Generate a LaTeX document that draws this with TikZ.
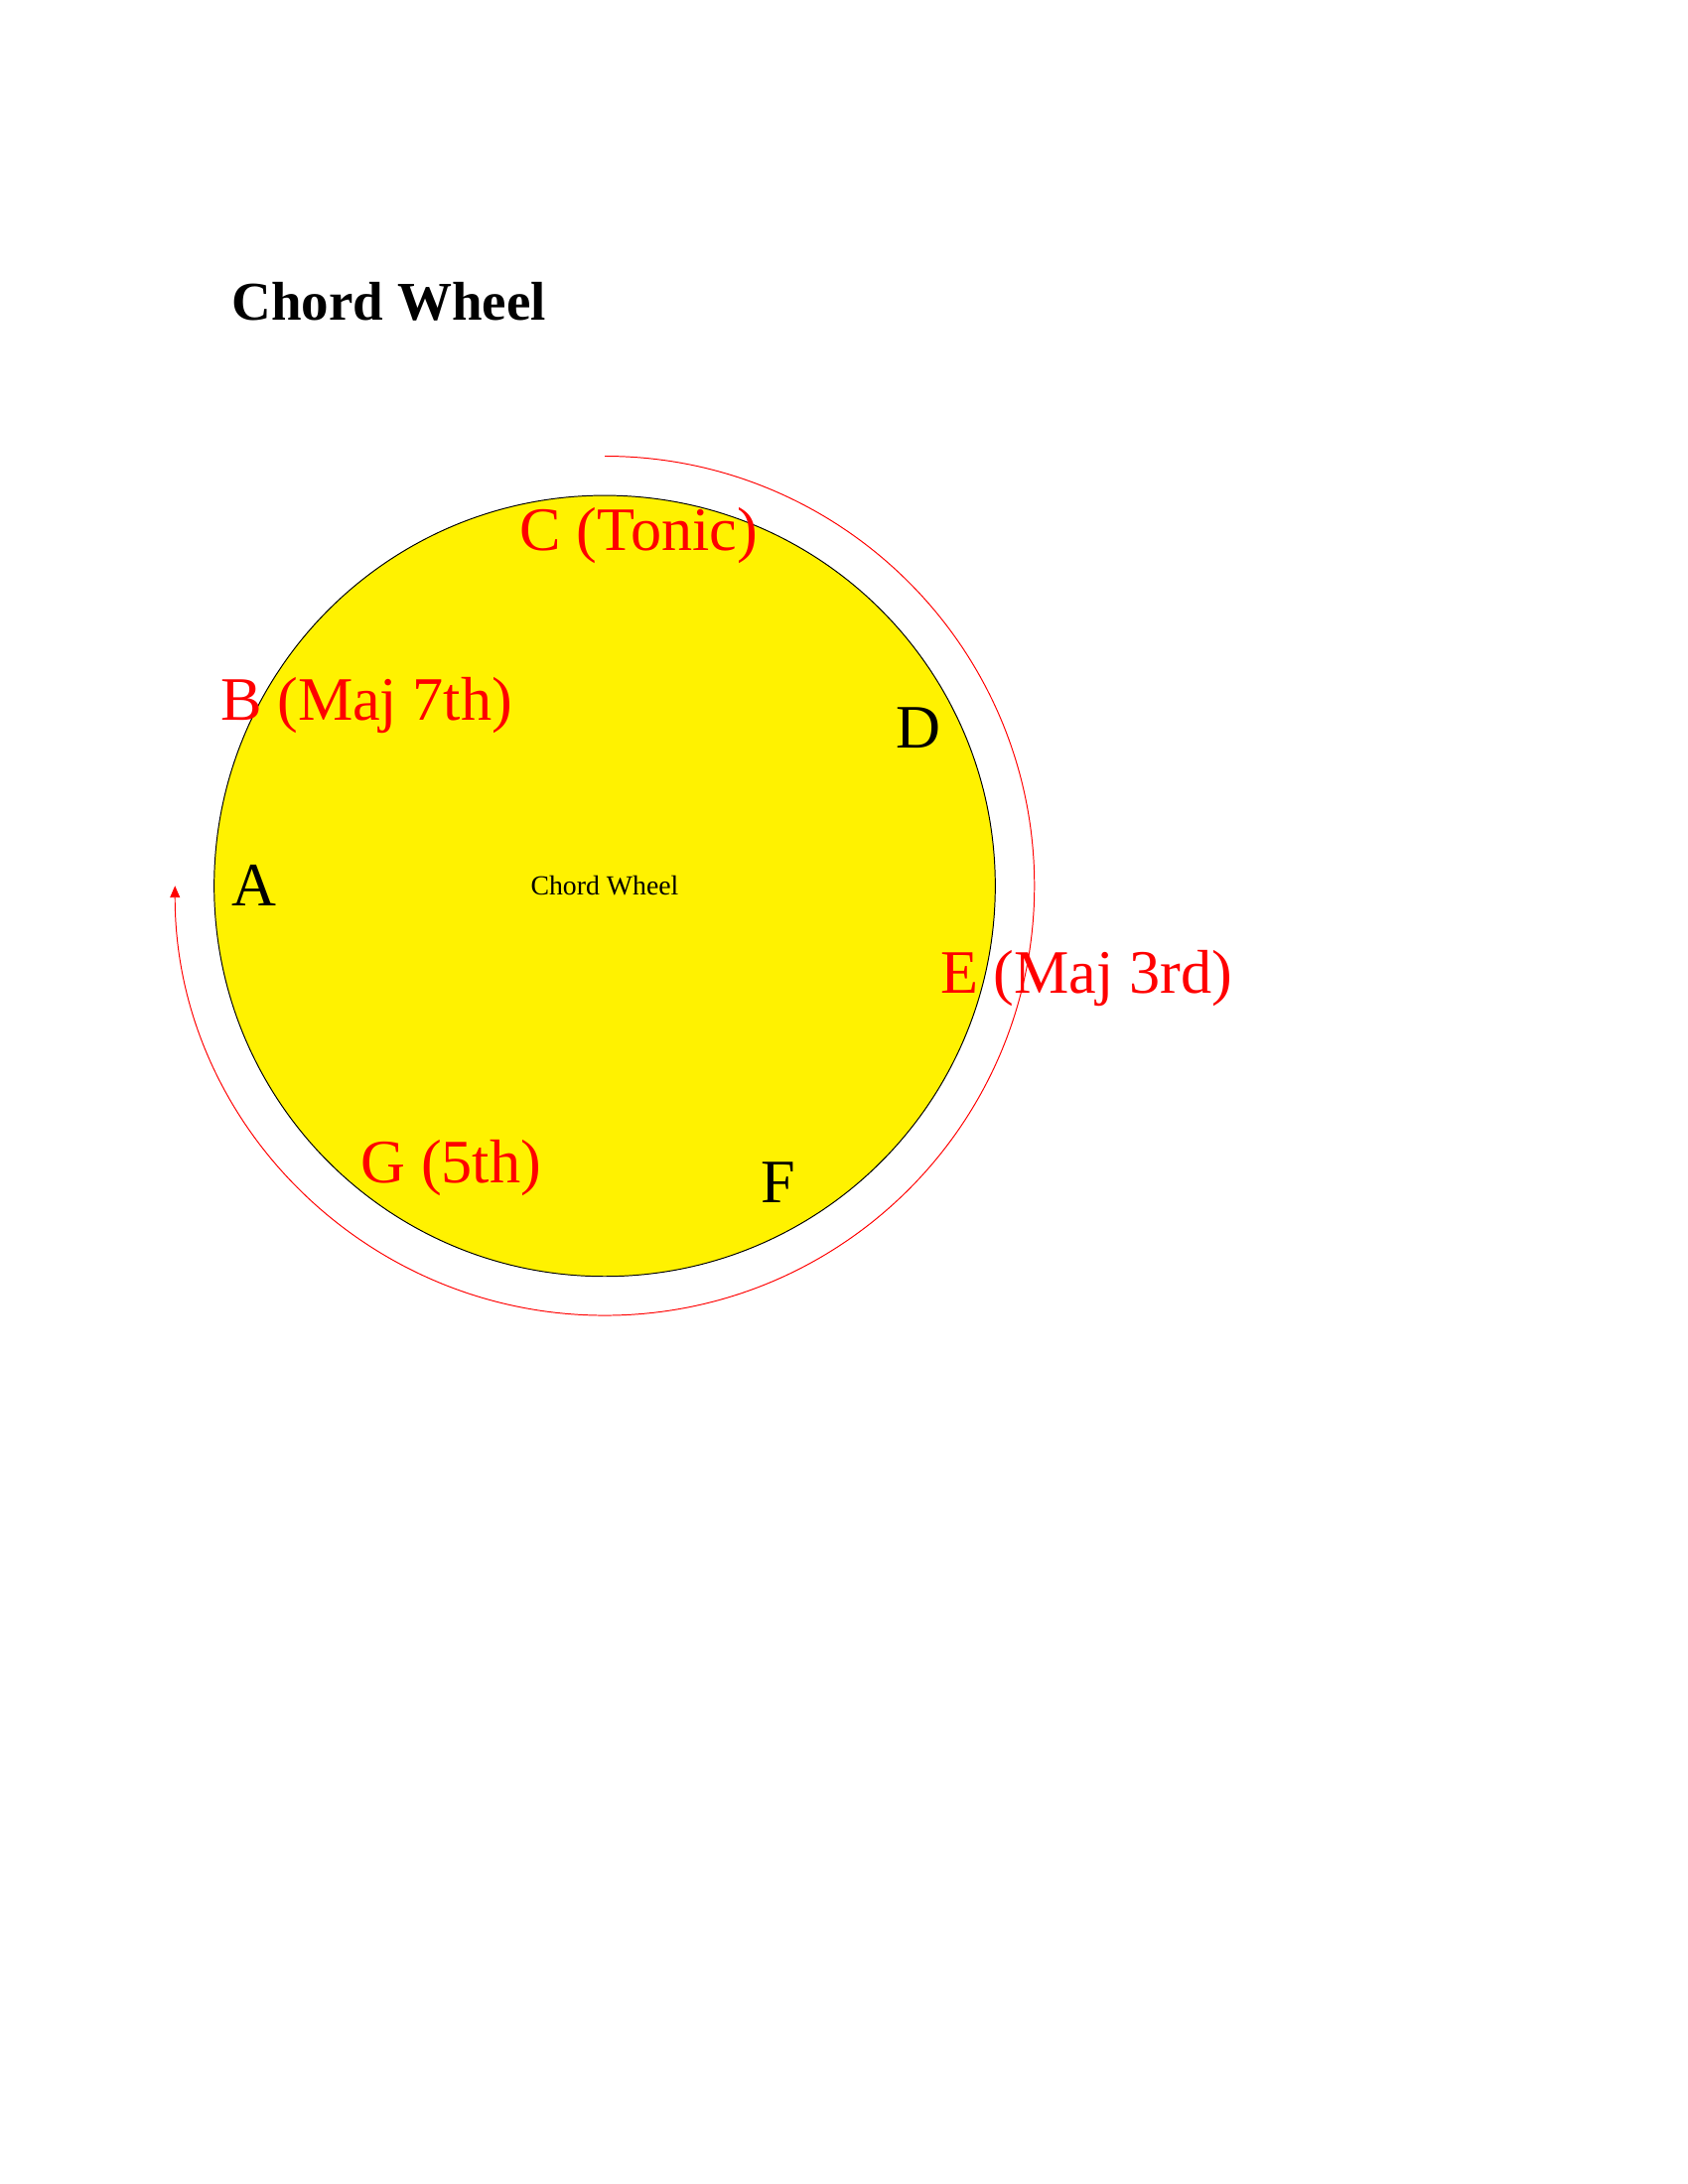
\documentclass[tikz,border=0pt]{standalone}
\usepackage{fontspec}
\setmainfont{Liberation Serif}
\usetikzlibrary{arrows.meta}
\definecolor{wheelyellow}{RGB}{255,242,0}
\begin{document}
\begin{tikzpicture}[x=0.36pt,y=-0.36pt,
  lbl/.style={anchor=base west,inner sep=0pt,font=\fontsize{22.4}{27}\selectfont},
  redlbl/.style={lbl,text=red},
  blklbl/.style={lbl,text=black}]
\useasboundingbox (0,0) rectangle (1700,2200);
\fill[white] (0,0) rectangle (1700,2200);
\node[anchor=base west,inner sep=0pt,font=\fontsize{19.8}{24}\selectfont\bfseries] (title) at (233,322) {Chord Wheel};
\node[circle,draw=black,line width=0.35pt,fill=wheelyellow,minimum size=283.2pt,inner sep=0pt] (wheel) at (609,892.4) {};
\node[anchor=base,inner sep=0pt,font=\fontsize{10}{12}\selectfont] (centre) at (609,901.7) {Chord Wheel};
\coordinate (arcstart) at (609,459.5);
\draw[red,line width=0.35pt,-{Triangle[length=4.3pt,width=3.6pt]}] (arcstart) arc[start angle=90,end angle=-180,radius=155.8pt];
\node[redlbl] (c) at (523,554.3) {C (Tonic)};
\node[redlbl] (b) at (221.7,725) {B (Maj 7th)};
\node[blklbl] (d) at (902,753) {D};
\node[blklbl] (a) at (233,912.7) {A};
\node[redlbl] (e) at (946.7,1000) {E (Maj 3rd)};
\node[redlbl] (g) at (363,1191) {G (5th)};
\node[blklbl] (f) at (766,1211.7) {F};
\end{tikzpicture}
\end{document}
